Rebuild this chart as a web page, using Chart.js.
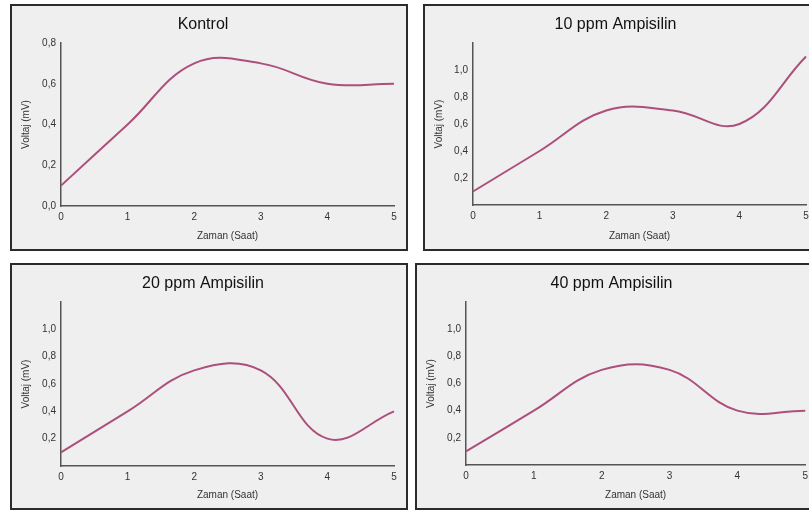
<!DOCTYPE html>
<html>
<head>
<meta charset="utf-8">
<script src="https://cdn.jsdelivr.net/npm/chart.js@4.4.1/dist/chart.umd.min.js"></script>
<style>
  html, body { margin: 0; padding: 0; background: #ffffff; }
  body { width: 809px; height: 510px; position: relative; overflow: hidden; }
  .panel { position: absolute; border: 2px solid #2b2b2b; background: #efefef; box-sizing: border-box; }
  .panel canvas { display: block; }
</style>
</head>
<body>
<div class="panel" id="p1" style="left:10px;top:4px;width:398px;height:247px"><canvas id="c1" width="394" height="243"></canvas></div>
<div class="panel" id="p2" style="left:423px;top:4px;width:394px;height:247px"><canvas id="c2" width="390" height="243"></canvas></div>
<div class="panel" id="p3" style="left:10px;top:263px;width:398px;height:247px"><canvas id="c3" width="394" height="243"></canvas></div>
<div class="panel" id="p4" style="left:415px;top:263px;width:400px;height:247px"><canvas id="c4" width="396" height="243"></canvas></div>
<script>
// ---- data ----
const categories = ['0', '1', '2', '3', '4', '5'];
const kontrol = [0.1, 0.4, 0.7, 0.7, 0.6, 0.6];
const ampisilin10 = [0.1, 0.4, 0.7, 0.7, 0.6, 1.1];
const ampisilin20 = [0.1, 0.4, 0.7, 0.7, 0.2, 0.4];
const ampisilin40 = [0.1, 0.4, 0.7, 0.7, 0.4, 0.4];
const titles = ['Kontrol', '10 ppm Ampisilin', '20 ppm Ampisilin', '40 ppm Ampisilin'];
const xTitle = 'Zaman (Saat)';
const yTitle = 'Voltaj (mV)';
const yMaxKontrol = 0.8;
const yMaxAmp = 1.2;

const FONT = '"Liberation Sans", Arial, sans-serif';
const LINE = '#ad4f7c';

function fmt(v) { return v.toFixed(1).replace('.', ','); }

function makeChart(id, title, data, yMax, hideEnds, layout) {
  const ctx = document.getElementById(id);
  return new Chart(ctx, {
    type: 'line',
    data: {
      labels: categories,
      datasets: [{
        data: data,
        borderColor: LINE,
        borderWidth: 2,
        pointRadius: 0,
        tension: 0.4,
        fill: false
      }]
    },
    options: {
      responsive: false,
      animation: false,
      events: [],
      layout: { padding: { left: 0, right: layout.right, top: 0, bottom: 0 } },
      plugins: {
        legend: { display: false },
        tooltip: { enabled: false },
        title: {
          display: true,
          text: title,
          color: '#111',
          font: { family: FONT, size: 16, weight: 'normal' },
          padding: { top: 9, bottom: layout.top - 9 - 19.2 }
        }
      },
      scales: {
        x: {
          offset: false,
          grid: { display: false, drawTicks: false },
          border: { display: true, color: '#555', width: 1.5 },
          ticks: { color: '#333', font: { family: FONT, size: 10 }, padding: 5, maxRotation: 0 },
          title: { display: true, text: xTitle, color: '#333', font: { family: FONT, size: 10 }, padding: { top: 0, bottom: 7 } },
          afterFit: (s) => { s.height = layout.xh; }
        },
        y: {
          min: 0,
          max: yMax,
          grid: { display: false, drawTicks: false },
          border: { display: true, color: '#555', width: 1.5 },
          ticks: {
            stepSize: 0.2,
            color: '#333',
            font: { family: FONT, size: 10 },
            padding: 5,
            callback: function (v) {
              const r = Math.round(v * 10) / 10;
              if (hideEnds && (r === 0 || Math.abs(r - yMax) < 1e-6)) return '';
              return fmt(r);
            }
          },
          title: { display: true, text: yTitle, color: '#333', font: { family: FONT, size: 10 }, padding: { top: 8, bottom: 0 } },
          afterFit: (s) => { s.width = layout.left; }
        }
      }
    }
  });
}

makeChart('c1', titles[0], kontrol, yMaxKontrol, false, { left: 49, right: 12, top: 37, xh: 43 });
makeChart('c2', titles[1], ampisilin10, yMaxAmp, true, { left: 48, right: 9, top: 37, xh: 44 });
makeChart('c3', titles[2], ampisilin20, yMaxAmp, true, { left: 49, right: 12, top: 37, xh: 42 });
makeChart('c4', titles[3], ampisilin40, yMaxAmp, true, { left: 49, right: 7, top: 37, xh: 43 });
</script>
</body>
</html>
